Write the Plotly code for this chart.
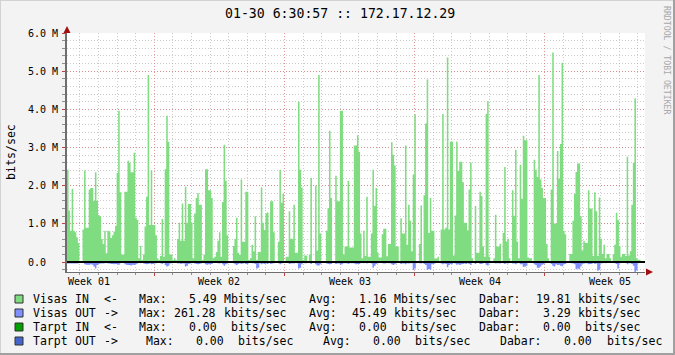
import re
import plotly.graph_objects as go

# ---------------- data (Mbits/sec, one value per 2-hour step) ----------------
STEP_DAYS = 1.0 / 12.0
visas_in = [
    2.42, 1.35, 0.82, 1.92, 0.82, 0.78, 0.65, 0.50, 0.03, 0.03,
    0.85, 2.40, 0.90, 0.90, 1.90, 1.94, 1.94, 1.60, 2.35, 1.60,
    1.23, 1.20, 0.60, 0.47, 0.82, 0.23, 0.82, 0.80, 0.63, 0.70,
    0.80, 0.95, 2.33, 3.96, 1.83, 0.20, 0.20, 1.84, 1.84, 2.65,
    2.60, 2.35, 2.35, 2.86, 1.16, 1.10, 0.10, 0.42, 0.05, 0.20,
    0.93, 1.71, 4.90, 0.97, 2.40, 0.97, 0.97, 0.70, 0.10, 0.05,
    0.16, 1.13, 0.14, 2.43, 3.83, 3.15, 0.20, 0.20, 0.05, 0.10,
    0.05, 0.60, 1.03, 0.56, 1.53, 0.56, 1.97, 1.03, 1.52, 1.52,
    1.03, 0.10, 1.27, 1.68, 1.80, 1.50, 1.50, 0.05, 0.20, 2.43,
    2.43, 1.88, 1.88, 1.68, 0.10, 0.14, 0.26, 0.56, 0.78, 0.14,
    1.57, 3.07, 2.13, 0.70, 0.03, 0.03, 0.03, 0.42, 0.61, 1.16,
    0.24, 0.19, 2.16, 0.53, 0.53, 1.84, 1.84, 0.05, 0.10, 0.45,
    0.28, 1.20, 0.05, 0.26, 0.26, 1.95, 1.03, 0.84, 1.28, 1.30,
    0.03, 1.59, 1.59, 0.78, 0.03, 0.03, 0.53, 2.42, 1.55, 1.79,
    0.03, 0.14, 0.14, 1.33, 0.61, 0.61, 1.50, 0.24, 0.24, 4.20,
    2.42, 1.95, 0.05, 0.17, 0.17, 0.03, 0.20, 2.20, 0.03, 0.03,
    2.00, 0.30, 4.90, 0.75, 0.03, 0.03, 0.03, 0.82, 1.41, 3.44,
    1.68, 0.03, 0.03, 2.26, 1.59, 1.59, 3.96, 3.96, 0.20, 0.41,
    0.41, 2.13, 0.38, 0.38, 0.38, 3.05, 3.05, 3.32, 2.89, 0.75,
    0.10, 0.82, 0.16, 1.71, 0.14, 0.14, 0.75, 2.42, 1.47, 1.94,
    0.24, 0.12, 0.12, 0.73, 0.87, 0.87, 0.15, 0.47, 0.47, 3.14,
    2.81, 2.53, 0.41, 0.41, 0.03, 1.15, 0.75, 0.75, 3.05, 0.45,
    1.50, 1.08, 0.28, 2.29, 3.87, 0.03, 0.03, 0.47, 1.48, 0.03,
    1.75, 3.63, 4.78, 0.76, 1.68, 0.82, 0.82, 0.09, 0.09, 0.14,
    0.03, 0.85, 3.88, 0.85, 0.90, 5.36, 0.85, 3.15, 3.15, 0.17,
    1.22, 3.16, 2.39, 2.63, 2.63, 2.09, 1.03, 1.03, 0.83, 1.90,
    2.60, 0.10, 0.03, 1.47, 0.24, 0.24, 1.84, 1.73, 0.41, 0.14,
    3.88, 4.22, 0.14, 0.03, 0.03, 0.10, 1.24, 0.41, 0.41, 0.48,
    0.03, 0.76, 2.49, 0.54, 0.61, 0.10, 0.03, 1.88, 1.21, 2.94,
    0.54, 0.10, 2.55, 1.66, 3.31, 3.19, 3.19, 0.12, 0.10, 0.10,
    0.03, 2.68, 2.42, 2.23, 4.90, 2.16, 1.94, 1.68, 1.68, 0.47,
    0.10, 0.03, 1.90, 5.49, 1.01, 1.01, 2.91, 2.18, 3.09, 5.22,
    0.82, 0.73, 0.03, 0.03, 0.21, 0.21, 1.08, 1.78, 2.36, 2.58,
    2.58, 1.20, 0.30, 0.56, 0.50, 0.50, 1.88, 1.40, 1.40, 0.16,
    1.83, 1.33, 0.16, 1.69, 0.61, 0.21, 0.45, 0.10, 0.21, 0.21,
    0.10, 0.03, 0.21, 0.45, 1.29, 1.10, 0.42, 0.14, 0.21, 0.21,
    0.16, 2.76, 0.17, 0.28, 1.50, 2.60, 4.29, 0.10, 0.06, 0.06,
]
visas_out = [
    0.04, 0.04, 0.04, 0.04, 0.04, 0.04, 0.04, 0.03, 0.02, 0.02,
    0.02, 0.06, 0.07, 0.07, 0.07, 0.06, 0.07, 0.12, 0.17, 0.08,
    0.05, 0.04, 0.04, 0.04, 0.03, 0.02, 0.04, 0.04, 0.05, 0.05,
    0.06, 0.05, 0.06, 0.07, 0.03, 0.02, 0.02, 0.06, 0.07, 0.08,
    0.08, 0.09, 0.07, 0.08, 0.06, 0.04, 0.02, 0.03, 0.02, 0.04,
    0.05, 0.06, 0.05, 0.04, 0.06, 0.05, 0.04, 0.03, 0.02, 0.02,
    0.03, 0.05, 0.02, 0.08, 0.12, 0.10, 0.04, 0.03, 0.02, 0.02,
    0.02, 0.04, 0.03, 0.05, 0.04, 0.04, 0.12, 0.10, 0.05, 0.04,
    0.03, 0.02, 0.04, 0.05, 0.06, 0.05, 0.04, 0.02, 0.03, 0.06,
    0.07, 0.06, 0.06, 0.05, 0.02, 0.02, 0.02, 0.03, 0.04, 0.02,
    0.06, 0.10, 0.06, 0.04, 0.02, 0.02, 0.02, 0.03, 0.06, 0.08,
    0.05, 0.03, 0.05, 0.04, 0.03, 0.05, 0.06, 0.02, 0.02, 0.03,
    0.03, 0.05, 0.17, 0.15, 0.03, 0.06, 0.04, 0.05, 0.04, 0.05,
    0.02, 0.05, 0.04, 0.03, 0.02, 0.02, 0.03, 0.06, 0.04, 0.02,
    0.02, 0.02, 0.02, 0.05, 0.04, 0.03, 0.04, 0.02, 0.03, 0.17,
    0.15, 0.06, 0.02, 0.03, 0.03, 0.02, 0.02, 0.05, 0.02, 0.02,
    0.06, 0.09, 0.09, 0.06, 0.02, 0.02, 0.02, 0.04, 0.05, 0.06,
    0.05, 0.02, 0.02, 0.05, 0.04, 0.04, 0.07, 0.06, 0.03, 0.03,
    0.03, 0.05, 0.03, 0.03, 0.03, 0.04, 0.06, 0.05, 0.05, 0.03,
    0.02, 0.03, 0.02, 0.04, 0.02, 0.02, 0.04, 0.15, 0.10, 0.05,
    0.03, 0.02, 0.02, 0.03, 0.04, 0.04, 0.02, 0.03, 0.03, 0.06,
    0.08, 0.06, 0.03, 0.02, 0.02, 0.05, 0.04, 0.04, 0.06, 0.03,
    0.04, 0.03, 0.03, 0.21, 0.17, 0.03, 0.02, 0.03, 0.04, 0.02,
    0.05, 0.08, 0.21, 0.18, 0.20, 0.06, 0.05, 0.03, 0.02, 0.02,
    0.02, 0.04, 0.06, 0.04, 0.05, 0.14, 0.08, 0.05, 0.06, 0.02,
    0.04, 0.07, 0.06, 0.08, 0.06, 0.05, 0.04, 0.05, 0.03, 0.05,
    0.08, 0.02, 0.02, 0.05, 0.02, 0.02, 0.05, 0.05, 0.03, 0.02,
    0.07, 0.09, 0.03, 0.02, 0.02, 0.02, 0.04, 0.03, 0.03, 0.04,
    0.02, 0.03, 0.05, 0.03, 0.04, 0.02, 0.02, 0.04, 0.04, 0.06,
    0.03, 0.02, 0.06, 0.06, 0.13, 0.12, 0.10, 0.02, 0.02, 0.02,
    0.02, 0.06, 0.08, 0.15, 0.15, 0.12, 0.07, 0.06, 0.03, 0.02,
    0.02, 0.02, 0.05, 0.10, 0.12, 0.06, 0.08, 0.07, 0.10, 0.11,
    0.06, 0.05, 0.02, 0.02, 0.02, 0.03, 0.04, 0.06, 0.19, 0.17,
    0.19, 0.12, 0.05, 0.04, 0.03, 0.03, 0.06, 0.05, 0.05, 0.02,
    0.05, 0.04, 0.23, 0.20, 0.04, 0.03, 0.02, 0.03, 0.02, 0.02,
    0.02, 0.02, 0.02, 0.03, 0.05, 0.17, 0.04, 0.02, 0.02, 0.02,
    0.02, 0.06, 0.03, 0.03, 0.05, 0.10, 0.26, 0.22, 0.03, 0.02,
]
week_labels = ["Week 01", "Week 02", "Week 03", "Week 04", "Week 05"]
week_label_days = [1.19, 8.19, 15.19, 22.19, 29.19]
y_tickvals = [0, 1, 2, 3, 4, 5, 6]
y_ticktext = ["0.0  ", "1.0 M", "2.0 M", "3.0 M", "4.0 M", "5.0 M", "6.0 M"]
title_text = "01-30 6:30:57 :: 172.17.12.29"
legend_lines = [
    "Visas IN  <-   Max:   5.49 Mbits/sec   Avg:   1.16 Mbits/sec   Dabar:  19.81 kbits/sec",
    "Visas OUT ->   Max: 261.28 kbits/sec   Avg:  45.49 kbits/sec   Dabar:   3.29 kbits/sec",
    "Tarpt IN  <-   Max:   0.00  bits/sec   Avg:   0.00  bits/sec   Dabar:   0.00  bits/sec",
    "Tarpt OUT ->    Max:   0.00  bits/sec    Avg:   0.00  bits/sec    Dabar:   0.00  bits/sec",
]
legend_colors = ["#80DC80", "#8090FF", "#00A000", "#4466CC"]

# ---------------- layout helpers ----------------
W, H = 675, 355
L, R, T, B = 67, 30, 33, 83
PW, PH = W - L - R, H - T - B
MONO = "DejaVu Sans Mono"
X_END = 31.07
Y_MIN, Y_MAX = -0.26128, 6.0
CW_LEG = 7.086      # legend character cell width (px)
CW_AX = 5.93        # axis-label character cell width (px)


def px(x):
    return (x - L) / PW


def py(y):
    return (H - B - y) / PH


xs = [i * STEP_DAYS for i in range(len(visas_in) + 1)]
fig = go.Figure()
fig.add_trace(go.Scatter(
    x=xs, y=visas_in + [visas_in[-1]], mode="lines",
    line=dict(width=0, shape="hv", color=legend_colors[0]),
    fill="tozeroy", fillcolor=legend_colors[0], name="Visas IN",
    showlegend=False, hoverinfo="skip"))
fig.add_trace(go.Scatter(
    x=xs, y=[-v for v in visas_out] + [-visas_out[-1]], mode="lines",
    line=dict(width=0, shape="hv", color=legend_colors[1]),
    fill="tozeroy", fillcolor=legend_colors[1], name="Visas OUT",
    showlegend=False, hoverinfo="skip"))
fig.add_trace(go.Scatter(
    x=[0, X_END], y=[0, 0], mode="lines",
    line=dict(width=2, color="#000000"), name="Tarpt",
    showlegend=False, hoverinfo="skip"))

red_grid = "rgba(214,120,120,0.75)"
gray_grid = "rgba(160,160,160,0.55)"

fig.update_xaxes(
    range=[0, X_END], tickmode="linear", tick0=4.69, dtick=7,
    showgrid=True, gridcolor=red_grid, griddash="1px,2px", gridwidth=1,
    showticklabels=False, ticks="outside", ticklen=3, tickcolor="#C04040",
    showline=True, linecolor="#6E6E6E", linewidth=1, zeroline=False,
    minor=dict(tickmode="linear", tick0=4.69, dtick=1, showgrid=True,
               gridcolor=gray_grid, griddash="1px,2px", ticks="outside",
               ticklen=2, tickcolor="#909090"),
    fixedrange=True)
fig.update_yaxes(
    range=[Y_MIN, Y_MAX], tickmode="array", tickvals=y_tickvals,
    showticklabels=False,
    showgrid=True, gridcolor=red_grid, griddash="1px,2px", gridwidth=1,
    ticks="outside", ticklen=3, tickcolor="#C04040",
    showline=True, linecolor="#6E6E6E", linewidth=2, zeroline=False,
    minor=dict(tickmode="linear", tick0=0, dtick=0.2, showgrid=True,
               gridcolor=gray_grid, griddash="1px,2px", ticks="outside",
               ticklen=3, tickcolor="#909090"),
    fixedrange=True)

shapes = []
shapes.append(dict(type="path", xref="paper", yref="paper",
                   path="M %f,%f L %f,%f L %f,%f Z" % (px(63.5), py(33), px(70.5), py(33), px(67), py(26)),
                   fillcolor="#A01010", line=dict(width=0)))
shapes.append(dict(type="path", xref="paper", yref="paper",
                   path="M %f,%f L %f,%f L %f,%f Z" % (px(646), py(268.5), px(646), py(275.5), px(653), py(272)),
                   fillcolor="#A01010", line=dict(width=0)))
shapes.append(dict(type="line", xref="paper", yref="paper", x0=px(0), x1=px(W), y0=py(0.5), y1=py(0.5),
                   line=dict(color="#D2D2D2", width=1)))
shapes.append(dict(type="line", xref="paper", yref="paper", x0=px(0.5), x1=px(0.5), y0=py(0), y1=py(H),
                   line=dict(color="#D2D2D2", width=1)))
shapes.append(dict(type="line", xref="paper", yref="paper", x0=px(0), x1=px(W), y0=py(H - 1), y1=py(H - 1),
                   line=dict(color="#A0A0A0", width=2)))
shapes.append(dict(type="line", xref="paper", yref="paper", x0=px(W - 1), x1=px(W - 1), y0=py(0), y1=py(H),
                   line=dict(color="#A0A0A0", width=2)))
row_y = [299, 313, 327, 341]
for c, yy in zip(legend_colors, row_y):
    shapes.append(dict(type="rect", xref="paper", yref="paper",
                       x0=px(15), x1=px(23), y0=py(yy - 4), y1=py(yy + 4),
                       fillcolor=c, line=dict(color="#303030", width=1)))

ann = []
ann.append(dict(text=title_text, x=px(340), y=py(14), xref="paper", yref="paper",
                showarrow=False, xanchor="center", yanchor="middle",
                font=dict(family=MONO, size=13.2, color="#000000")))
ann.append(dict(text="bits/sec", x=px(11), y=py(152), xref="paper", yref="paper",
                showarrow=False, textangle=-90, xanchor="center", yanchor="middle",
                font=dict(family=MONO, size=11.6, color="#000000")))
ann.append(dict(text="RRDTOOL / TOBI OETIKER", x=px(667), y=py(60), xref="paper", yref="paper",
                showarrow=False, textangle=90, xanchor="center", yanchor="middle",
                font=dict(family=MONO, size=8.2, color="#A8A8A8")))
for v, lab in zip(y_tickvals, y_ticktext):
    core = lab.rstrip()
    pad = len(lab) - len(core)
    ann.append(dict(text=core, x=px(60.3 - pad * CW_AX), y=v, xref="paper", yref="y",
                    showarrow=False, xanchor="right", yanchor="middle",
                    font=dict(family=MONO, size=10, color="#000000")))
for lab, d in zip(week_labels, week_label_days):
    ann.append(dict(text=lab, x=d, y=py(281.5), xref="x", yref="paper",
                    showarrow=False, xanchor="center", yanchor="middle",
                    font=dict(family=MONO, size=10, color="#000000")))
for line, yy in zip(legend_lines, row_y):
    for m in re.finditer(r"\S+", line):
        ann.append(dict(text=m.group(0), x=px(30.7 + m.start() * CW_LEG), y=py(yy),
                        xref="paper", yref="paper", showarrow=False,
                        xanchor="left", yanchor="middle",
                        font=dict(family=MONO, size=11.5, color="#000000")))

fig.update_layout(
    width=W, height=H, margin=dict(l=L, r=R, t=T, b=B, pad=0),
    paper_bgcolor="#F3F3F3", plot_bgcolor="#FFFFFF",
    showlegend=False, shapes=shapes, annotations=ann,
    font=dict(family=MONO))

fig.write_html("out.html", config={"displayModeBar": False})
